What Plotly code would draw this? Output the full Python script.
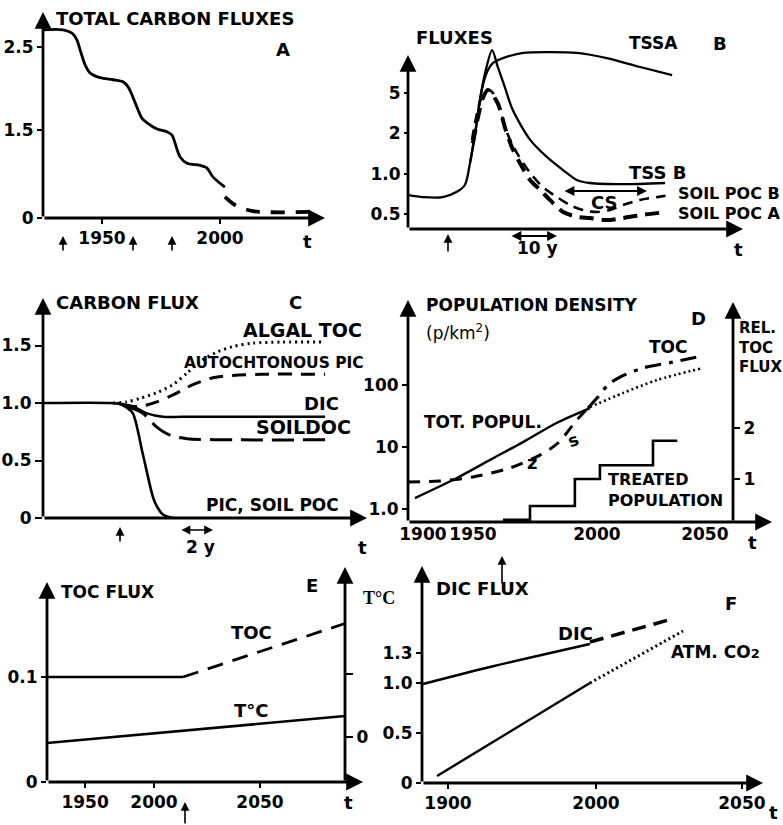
import plotly.graph_objects as go

W, H = 783, 825
SANS = "DejaVu Sans"
SERIF = "Liberation Serif"

# ---------------- A : total carbon fluxes ----------------
A_YEAR = [1925.0, 1933.5, 1937.3, 1939.4, 1940.7, 1942.8, 1944.9, 1949.2, 1954.7, 1958.9, 1961.0,
          1962.7, 1964.8, 1966.9, 1969.1, 1973.3, 1977.5, 1979.7, 1980.9, 1983.1, 1986.0, 1991.5,
          1994.5, 1997.0, 2002.1]
A_FLUX = [2.75, 2.75, 2.70, 2.60, 2.46, 2.24, 2.12, 2.05, 2.02, 1.99, 1.92,
          1.80, 1.62, 1.46, 1.39, 1.30, 1.26, 1.21, 1.10, 0.89, 0.80, 0.77,
          0.73, 0.60, 0.45]
A_PROJ_YEAR = [2002.1, 2006.4, 2014.0, 2039.4]
A_PROJ_FLUX = [0.31, 0.19, 0.10, 0.09]
A_XTICKS = [1950, 2000]
A_YTICK_POS = [0, 1.29, 2.5]
A_YTICK_TEXT = ["0", "1.5", "2.5"]

# ---------------- B : fluxes after a disturbance (t in years) ----------------
B_T_TSSB = [0, 3.2, 7.4, 10.4, 12.1, 13.2, 14.3, 15.3, 16.4, 17.9, 19.1, 20.6, 22.3, 26.0, 29.6,
            33.0, 36.0, 38.7, 45.7, 54.7]
B_TSSB = [0.47, 0.42, 0.42, 0.55, 0.72, 1.27, 2.01, 2.83, 3.50, 4.07, 3.65, 3.15, 2.58, 1.84, 1.41,
          1.09, 0.84, 0.77, 0.74, 0.77]
B_T_TSSA = [13.2, 14.3, 15.7, 16.8, 18.1, 20.2, 24.5, 29.6, 36.0, 42.3, 49.4, 56.2]
B_TSSA = [1.27, 2.01, 3.08, 3.52, 3.75, 3.87, 4.0, 4.02, 4.0, 3.87, 3.65, 3.45]
B_T_POCB = [13.6, 14.7, 15.7, 17.0, 18.1, 19.6, 21.1, 23.2, 26.0, 28.7, 31.7, 34.5, 37.2, 40.2,
            43.0, 45.7, 49.4, 53.0, 55.7]
B_POCB = [1.84, 2.51, 2.90, 3.08, 3.0, 2.58, 2.01, 1.51, 1.02, 0.67, 0.42, 0.22, 0.10, 0.05,
          0.10, 0.22, 0.35, 0.42, 0.47]
B_T_POCA = [13.8, 14.9, 16.0, 17.0, 19.1, 20.6, 22.1, 23.8, 26.0, 28.1, 30.2, 33.0, 36.0, 38.7,
            42.3, 45.7, 50.0, 55.1]
B_POCA = [1.76, 2.41, 2.90, 3.08, 2.75, 2.16, 1.66, 1.27, 0.84, 0.60, 0.35, 0.05, -0.07, -0.10,
          -0.15, -0.10, -0.02, 0.05]
B_YTICK_POS = [0, 1, 2, 3]
B_YTICK_TEXT = ["0.5", "1.0", "2", "5"]

# ---------------- C : carbon flux (t in years) ----------------
C_T_PIC = [0, 4.06, 4.67, 5.09, 5.45, 6.06, 6.67, 6.91, 7.27, 7.88, 16.18]
C_PIC = [1.0, 1.0, 0.99, 0.96, 0.91, 0.55, 0.18, 0.10, 0.03, 0, 0]
C_T_ALGAL = [4.24, 5.09, 5.88, 6.9, 7.88, 8.73, 9.52, 10.5, 11.5, 12.7, 14.5, 17.1]
C_ALGAL = [1.0, 1.01, 1.04, 1.09, 1.16, 1.26, 1.36, 1.44, 1.49, 1.52, 1.53, 1.53]
C_T_AUTO = [4.85, 5.88, 6.9, 7.88, 9.09, 10.3, 11.5, 13.2, 17.1]
C_AUTO = [0.98, 0.97, 1.01, 1.07, 1.16, 1.22, 1.24, 1.25, 1.25]
C_T_DIC = [4.48, 5.45, 6.3, 7.27, 8.48, 17.1]
C_DIC = [1.0, 0.97, 0.91, 0.88, 0.88, 0.88]
C_T_SOILDOC = [5.09, 6.06, 6.9, 7.7, 8.73, 11.5, 17.1]
C_SOILDOC = [0.97, 0.91, 0.79, 0.72, 0.69, 0.68, 0.68]
C_YTICKS = [0, 0.5, 1.0, 1.5]

# ---------------- D : population density ----------------
D_YEAR_POP = [1926.6, 1943.5, 1956.9, 1970.2, 1983.9, 1997.2]
D_POP = [1.50, 3.16, 6.2, 12.0, 24.6, 42.5]
D_YEAR_POP_PROJ = [1997.2, 2010.5, 2024.2, 2042.7]
D_POP_PROJ = [44.2, 74.2, 120, 188]
D_YEAR_TOC = [1923.8, 1936.7, 1950, 1964.9, 1977, 1984.3, 1991.9, 1996.4]
D_TOC = [2.72, 2.83, 3.28, 4.58, 7.4, 11.6, 27.2, 42.6]
D_YEAR_TOC_PROJ = [1996.4, 2000.4, 2004.4, 2009.3, 2018.5, 2030.6, 2040.3]
D_TOC_PROJ = [42.6, 64, 100, 134, 188, 234, 282]
D_YEAR_TREAT = [1962.1, 1973, 1991.1, 2001.2, 2022.6, 2032.4]
D_TREAT = [0.2, 0.47, 1.0, 1.27, 1.75, 1.75]
D_XTICK_POS = [1929.8, 1950, 2000, 2043.5]
D_XTICK_TEXT = ["1900", "1950", "2000", "2050"]
D_YTICKS = [1, 10, 100]
D_YTICK_TEXT = ["1.0", "10", "100"]
D_Y2TICKS = [1, 2]

# ---------------- E : TOC flux and temperature ----------------
E_YEAR_TOC = [1949.5, 2013.7]
E_TOC = [0.1, 0.1]
E_YEAR_TOC_PROJ = [2013.7, 2090.1]
E_TOC_PROJ = [0.1, 0.151]
E_YEAR_T = [1949.5, 2090.1]
E_T = [-0.095, 0.333]
E_XTICK_POS = [1967.5, 2000, 2050]
E_XTICK_TEXT = ["1950", "2000", "2050"]
E_YTICKS = [0, 0.1]
E_Y2TICKS = [0, 1]
E_Y2TICK_TEXT = ["0", " "]

# ---------------- F : DIC flux ----------------
F_YEAR_DIC = [1883.1, 1928.4, 1995.9]
F_DIC = [0.99, 1.16, 1.39]
F_YEAR_DIC_PROJ = [1995.9, 2051.4]
F_DIC_PROJ = [1.41, 1.64]
F_YEAR_CO2 = [1892.6, 1995.9]
F_CO2 = [0.07, 1.0]
F_YEAR_CO2_PROJ = [1995.9, 2058.8]
F_CO2_PROJ = [1.0, 1.52]
F_XTICK_POS = [1900, 2000, 2098.6]
F_XTICK_TEXT = ["1900", "2000", "2050"]
F_YTICKS = [0, 0.5, 1.0, 1.3]


def fx(p):
    return p / W


def fy(p):
    return 1 - p / H


fig = go.Figure()


def curve(x, y, ax, width=2.6, dash="solid", shape="spline", yax=None):
    fig.add_trace(go.Scatter(
        x=x, y=y, xaxis="x" + ax, yaxis="y" + (yax or ax), mode="lines",
        line=dict(color="black", width=width, dash=dash, shape=shape, smoothing=0.8),
        hoverinfo="skip", showlegend=False))


# A
curve(A_YEAR, A_FLUX, "", width=2.8)
curve(A_PROJ_YEAR, A_PROJ_FLUX, "", width=3.8, dash="14px,11px")
# B
curve(B_T_TSSB, B_TSSB, "2", width=2.3)
curve(B_T_TSSA, B_TSSA, "2", width=2.3)
curve(B_T_POCB, B_POCB, "2", width=2.6, dash="10px,7px")
curve(B_T_POCA, B_POCA, "2", width=4, dash="14px,8px")
# C
curve(C_T_PIC, C_PIC, "3", width=2.6)
curve(C_T_ALGAL, C_ALGAL, "3", width=3, dash="2px,4px")
curve(C_T_AUTO, C_AUTO, "3", width=3, dash="14px,9px")
curve(C_T_DIC, C_DIC, "3", width=2.4)
curve(C_T_SOILDOC, C_SOILDOC, "3", width=3, dash="22px,9px")
# D
curve(D_YEAR_POP, D_POP, "4", width=2.4)
curve(D_YEAR_POP_PROJ, D_POP_PROJ, "4", width=2.6, dash="2px,3px")
curve(D_YEAR_TOC, D_TOC, "4", width=3, dash="12px,9px")
curve(D_YEAR_TOC_PROJ, D_TOC_PROJ, "4", width=3.2, dash="16px,8px,4px,8px")
curve(D_YEAR_TREAT, D_TREAT, "4", width=2.6, shape="hv", yax="5")
# E
curve(E_YEAR_TOC, E_TOC, "5", shape="linear", yax="6")
curve(E_YEAR_TOC_PROJ, E_TOC_PROJ, "5", width=2.8, dash="16px,10px", shape="linear", yax="6")
curve(E_YEAR_T, E_T, "5", width=2.6, shape="linear", yax="7")
# F
curve(F_YEAR_DIC, F_DIC, "6", width=2.6, yax="8")
curve(F_YEAR_DIC_PROJ, F_DIC_PROJ, "6", width=3.5, dash="14px,8px", shape="linear", yax="8")
curve(F_YEAR_CO2, F_CO2, "6", width=2.4, shape="linear", yax="8")
curve(F_YEAR_CO2_PROJ, F_CO2_PROJ, "6", width=3, dash="2px,3px", shape="linear", yax="8")

TICKFONT = dict(family=SANS, size=17, color="black", weight="bold")


def xaxis(x0, x1, rng, anchor, tickvals, ticktext=None, ticks="outside"):
    return dict(domain=[fx(x0), fx(x1)], range=rng, anchor=anchor, showgrid=False,
                zeroline=False, showline=False, ticks=ticks if tickvals else "",
                ticklen=5, tickwidth=2, tickcolor="black", tickvals=tickvals,
                ticktext=ticktext, tickfont=TICKFONT, fixedrange=True, automargin=False)


def yaxis(y0, y1, rng, anchor, tickvals, ticktext=None, type_="linear", **kw):
    d = dict(domain=[fy(y0), fy(y1)], range=rng, anchor=anchor, type=type_, showgrid=False,
             zeroline=False, showline=False, ticks="outside", ticklen=5, tickwidth=2,
             tickcolor="black", tickvals=tickvals, ticktext=ticktext, tickfont=TICKFONT,
             fixedrange=True, automargin=False)
    d.update(kw)
    return d


fig.update_layout(
    width=W, height=H, margin=dict(l=0, r=0, t=0, b=0, pad=0, autoexpand=False),
    paper_bgcolor="white", plot_bgcolor="rgba(0,0,0,0)", showlegend=False,
    font=dict(family=SANS, color="black"),
    xaxis=xaxis(43, 325, [1925.0, 2044.5], "y", A_XTICKS),
    yaxis=yaxis(218, 12, [0, 3.01], "x", A_YTICK_POS, A_YTICK_TEXT),
    xaxis2=xaxis(408, 743, [0, 71.28], "y2", []),
    yaxis2=yaxis(229, 40, [-0.372, 4.32], "x2", B_YTICK_POS, B_YTICK_TEXT, ticklen=3),
    xaxis3=xaxis(43, 367, [0, 19.64], "y3", []),
    yaxis3=yaxis(518, 298, [0, 1.913], "x3", C_YTICKS, ["0", "0.5", "1.0", "1.5"], ticklen=7),
    xaxis4=xaxis(408, 772, [1923.8, 2070.6], "y4", D_XTICK_POS, D_XTICK_TEXT, ticks=""),
    yaxis4=yaxis(522, 300, [-0.21, 3.371], "x4", D_YTICKS, D_YTICK_TEXT, type_="log"),
    yaxis5=yaxis(522, 300, [0.157, 4.51], "free", D_Y2TICKS, overlaying="y4", side="right",
                 position=fx(733), ticklen=6),
    xaxis5=xaxis(47, 363, [1949.53, 2098.58], "y6", E_XTICK_POS, E_XTICK_TEXT),
    yaxis6=yaxis(782, 567, [0, 0.2048], "x5", E_YTICKS, ["0", "0.1"]),
    yaxis7=yaxis(782, 567, [-0.714, 2.698], "free", E_Y2TICKS, E_Y2TICK_TEXT, overlaying="y6",
                 side="right", position=fx(345), ticklen=7),
    xaxis6=xaxis(422, 763, [1882.43, 2112.84], "y8", F_XTICK_POS, F_XTICK_TEXT),
    yaxis8=yaxis(783, 566, [0, 2.17], "x6", F_YTICKS, ["0", "0.5", "1.0", "1.3"]),
)

ann = []


def arrow(x0, y0, x1, y1, width=2.8, size=1.2, head=2, both=False):
    ann.append(dict(x=fx(x1), y=fy(y1), xref="paper", yref="paper", ax=x0 - x1, ay=y0 - y1,
                    text="", showarrow=True, arrowhead=head, arrowsize=size, arrowwidth=width,
                    arrowcolor="black", arrowside="end+start" if both else "end",
                    startarrowhead=head, startarrowsize=size))


def label(text, x, y, size=17, xanchor="left", bold=True, family=SANS, **kw):
    d = dict(x=fx(x), y=fy(y), xref="paper", yref="paper", text=text, showarrow=False,
             xanchor=xanchor, yanchor="middle", borderpad=0,
             font=dict(family=family, size=size, color="black",
                       weight="bold" if bold else "normal"))
    d.update(kw)
    ann.append(d)


# axes lines with arrow heads
for x0, y0, x1, y1 in [(43, 218, 43, 12), (43, 218, 325, 218),
                       (408, 229, 408, 55), (408, 229, 743, 229),
                       (43, 518, 43, 298), (43, 518, 367, 518),
                       (408, 522, 408, 300), (733, 522, 733, 302), (408, 522, 772, 522),
                       (47, 782, 47, 582), (345, 782, 345, 567), (47, 782, 363, 782),
                       (422, 783, 422, 566), (422, 783, 763, 783)]:
    arrow(x0, y0, x1, y1)

# small event arrows
for x, y0, y1 in [(63, 252, 236), (133, 252, 236), (172, 252, 236), (448, 253, 234),
                  (120, 543, 527), (502, 585, 556), (185, 825, 802)]:
    arrow(x, y0, x, y1, width=1.6, size=1.1)

# double arrows
arrow(563, 191, 647, 191, width=1.8, size=1.1, both=True)
arrow(510, 236, 557, 236, width=1.8, size=1.1, both=True)
arrow(180, 530, 213, 530, width=1.6, size=1.1, both=True)

# A
label("TOTAL CARBON FLUXES", 55, 18, size=18)
label("A", 283, 49, size=18, xanchor="center")
label("t", 307, 241, size=18, xanchor="center")
# B
label("FLUXES", 415, 38, size=18)
label("TSSA", 628, 43)
label("B", 720, 43, size=18, xanchor="center")
label("TSS B", 628, 172, size=18)
label("SOIL POC B", 677, 194, size=16)
label("SOIL POC A", 677, 213, size=16)
label("CS", 590, 202, size=18)
label("10 y", 537, 248, xanchor="center")
label("t", 738, 250, size=18, xanchor="center")
# C
label("CARBON FLUX", 55, 302, size=18)
label("C", 295, 302, size=18, xanchor="center")
label("ALGAL TOC", 363, 330, size=19, xanchor="right")
label("AUTOCHTONOUS PIC", 365, 363, size=15.5, xanchor="right")
label("DIC", 340, 403, size=18, xanchor="right")
label("SOILDOC", 352, 427, size=19, xanchor="right")
label("PIC, SOIL POC", 340, 505, xanchor="right")
label("2 y", 200, 547, xanchor="center")
label("t", 362, 547, size=18, xanchor="center")
# D
label("POPULATION DENSITY", 425, 305, size=17)
label("(p/km<sup>2</sup>)", 425, 332, bold=False)
label("D", 698, 318, size=18, xanchor="center")
label("REL.<br>TOC<br>FLUX", 738, 347, size=15, align="left")
label("TOC", 648, 347)
label("TOT. POPUL.", 423, 422)
label("TREATED<br>POPULATION", 607, 490, size=16, align="left")
label("t", 752, 542, size=18, xanchor="center")
label("z", 526, 462, size=18)
label("s", 564, 440, size=17, textangle=-20)
# E
label("TOC FLUX", 60, 592)
label("E", 312, 585, size=18, xanchor="center")
label("T°C", 362, 598, size=18, family=SERIF)
label("TOC", 230, 632, size=18)
label("T°C", 233, 710, size=18)
label("t", 348, 802, size=18, xanchor="center")
# F
label("DIC FLUX", 435, 588, size=18)
label("F", 731, 603, size=18, xanchor="center")
label("DIC", 557, 633, size=18)
label("ATM. CO<span style='font-size:13px'>2</span>", 670, 652, size=17)
label("t", 773, 812, size=18, xanchor="center")

fig.update_layout(annotations=ann)
fig.write_html(
    "out.html",
    config={"displayModeBar": False},
    post_script=("document.documentElement.style.overflow='hidden';"
                 "document.body.style.margin='0px';"
                 "document.body.style.overflow='hidden';"),
)
